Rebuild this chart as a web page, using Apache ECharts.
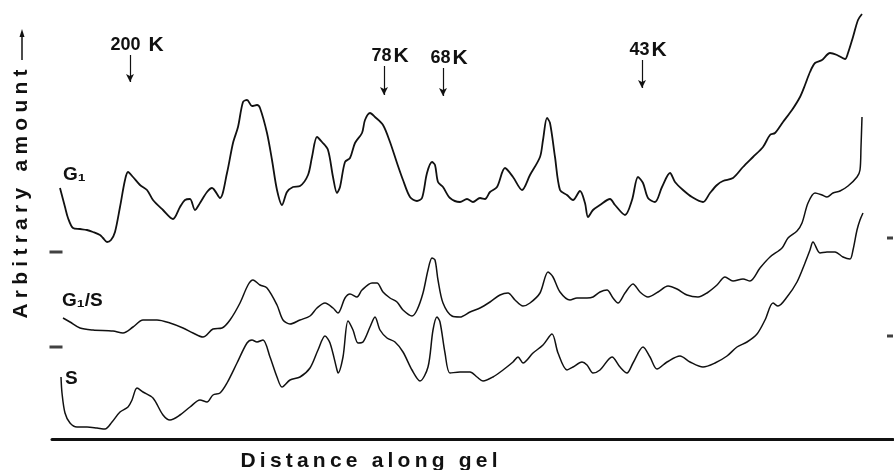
<!DOCTYPE html>
<html>
<head>
<meta charset="utf-8">
<script src="https://cdn.jsdelivr.net/npm/echarts@6/dist/echarts.min.js"></script>
<style>
  html, body { margin: 0; background: #fff; }
  #chart { width: 894px; height: 470px; }
</style>
</head>
<body>
<div id="chart"></div>
<script>
  // densitometer traces: [distance along gel, arbitrary amount]
  var g1Trace = [
    [8,251],[13,232],[16,221],[21,211],[28,210],[35,209],[41,207],[48,204],[51,201],[55,197],[59,199],
    [63,207],[68,232],[73,259],[76,267],[81,262],[88,254],[95,249],[101,239],[111,229],[121,220],
    [128,232],[133,239],[138,240],[143,229],[148,236],[155,247],[160,251],[168,241],[175,266],[181,296],
    [186,312],[191,337],[195,339],[200,333],[205,334],[208,331],[215,306],[220,279],[225,249],[230,234],
    [235,247],[241,252],[248,253],[256,264],[260,282],[265,302],[270,297],[276,289],[281,262],[285,246],
    [288,252],[293,277],[298,281],[303,296],[310,306],[313,319],[318,326],[323,322],[331,314],[338,297],
    [345,276],[351,259],[358,242],[365,238],[370,241],[375,266],[380,277],[383,274],[386,257],[391,252],
    [398,241],[408,237],[415,240],[421,237],[428,241],[433,240],[438,247],[445,252],[453,271],[461,262],
    [470,249],[478,264],[488,282],[491,299],[495,321],[498,316],[503,282],[508,249],[515,244],[521,239],
    [528,248],[533,236],[536,222],[541,229],[548,234],[558,240],[563,234],[573,224],[580,239],[586,262],
    [591,256],[596,241],[603,237],[610,252],[618,266],[623,257],[631,249],[640,242],[651,237],[658,246],
    [665,254],[671,258],[681,261],[691,272],[701,282],[711,292],[718,304],[723,306],[731,317],[740,329],
    [748,342],[753,354],[758,367],[763,376],[770,379],[778,386],[785,384],[793,380],[796,386],[801,402],
    [806,419],[810,425]
  ];
  var g1sTrace = [
    [11,121],[18,117],[28,111],[41,109],[61,108],[71,106],[81,112],[91,119],[105,119],[118,116],[131,111],
    [141,106],[151,102],[161,110],[170,111],[178,119],[188,136],[196,154],[201,159],[208,154],[215,151],
    [225,134],[231,119],[238,115],[248,119],[258,123],[265,131],[273,136],[281,131],[286,126],[293,141],
    [298,145],[305,142],[310,149],[320,156],[325,156],[331,147],[338,141],[345,137],[351,129],[360,123],
    [365,129],[371,146],[376,169],[380,181],[383,179],[386,159],[391,136],[400,123],[408,122],[418,127],
    [428,131],[438,137],[448,144],[456,146],[463,139],[471,133],[478,136],[488,146],[496,167],[501,162],
    [508,147],[518,139],[525,141],[535,141],[541,142],[548,147],[555,149],[561,141],[566,136],[573,146],
    [581,155],[588,147],[596,142],[606,147],[616,153],[625,150],[635,144],[646,142],[655,146],[665,154],
    [673,162],[681,158],[691,160],[698,158],[708,171],[718,182],[730,191],[736,201],[745,208],[750,216],
    [756,236],[763,246],[770,244],[775,242],[781,246],[788,248],[796,253],[805,262],[808,269],[809,292],
    [810,322]
  ];
  var sTrace = [
    [9,62],[10,46],[13,26],[18,16],[25,12],[35,12],[45,11],[53,10],[60,17],[68,27],[76,32],[80,39],
    [85,51],[91,47],[101,41],[111,24],[118,19],[128,24],[138,32],[148,39],[155,37],[161,44],[168,46],
    [175,56],[185,76],[195,96],[200,99],[205,97],[211,99],[218,82],[225,62],[230,52],[238,59],[248,62],
    [258,71],[266,89],[273,103],[278,96],[285,69],[286,66],[291,82],[296,118],[301,109],[306,96],[311,97],
    [318,112],[323,122],[328,109],[335,101],[343,97],[351,87],[360,69],[368,58],[376,72],[381,109],
    [385,122],[388,117],[393,86],[398,66],[408,67],[418,67],[425,62],[431,58],[441,62],[451,69],[461,77],
    [466,82],[471,76],[481,86],[491,94],[500,105],[506,86],[515,69],[521,72],[530,77],[535,74],[541,66],
    [548,69],[560,82],[568,72],[575,66],[581,76],[591,92],[598,82],[605,70],[615,77],[628,83],[638,77],
    [651,72],[663,76],[675,83],[685,92],[695,97],[705,105],[713,119],[721,136],[726,133],[735,142],
    [745,157],[753,176],[758,189],[761,197],[768,186],[775,187],[783,187],[791,182],[798,180],[801,189],
    [805,209],[808,219],[811,226]
  ];

  // molecular weight markers: label, position, arrow top / tip
  var bandNames = ['200', '78', '68', '43'];
  var bandPos = [78, 332, 391, 590];
  var bandTop = [384, 373, 371, 379];
  var bandTip = [357, 344, 343, 351];

  // small baseline ticks at the edges
  var leftTicks = [187, 92];
  var rightTicks = [201, 103];

  var FONT = '"Liberation Sans", Arial, sans-serif';
  var INK = '#111';

  function spread(s, sep) {
    return s.split('').join(sep || '\u2009');
  }

  var bandLines = bandNames.map(function (name, i) {
    var wide = name.length > 2;
    return [
      {
        coord: [bandPos[i], bandTop[i]],
        label: {
          formatter: '{n|' + name + '}{' + (wide ? 'kw' : 'k') + '|K}',
          offset: [wide ? 7 : 6, 4]
        }
      },
      {coord: [bandPos[i], bandTip[i]]}
    ];
  });

  var chart = echarts.init(document.getElementById('chart'));

  var traceStyle = function (w) {
    return {
      type: 'line',
      showSymbol: false,
      smooth: 0.3,
      silent: true,
      lineStyle: {color: INK, width: w}
    };
  };

  var option = {
    backgroundColor: '#fff',
    animation: false,
    grid: {left: 52, right: 1, top: 0, bottom: 31},
    xAxis: {
      type: 'value',
      min: 0,
      max: 841,
      axisLine: {show: true, lineStyle: {color: INK, width: 3}},
      axisTick: {show: false},
      axisLabel: {show: false},
      splitLine: {show: false}
    },
    yAxis: {
      type: 'value',
      min: 0,
      max: 439,
      show: false
    },
    series: [
      Object.assign(traceStyle(1.8), {
        name: 'G1',
        data: g1Trace,
        markLine: {
          silent: true,
          symbol: ['none', 'arrow'],
          symbolSize: [6, 8],
          lineStyle: {color: INK, width: 1.2, type: 'solid'},
          label: {
            show: true,
            position: 'start',
            distance: 3,
            color: INK,
            rich: {
              n: {fontFamily: FONT, fontWeight: 'bold', fontSize: 18, color: INK},
              k: {fontFamily: FONT, fontWeight: 'bold', fontSize: 21, color: INK, padding: [0, 0, 0, 2]},
              kw: {fontFamily: FONT, fontWeight: 'bold', fontSize: 21, color: INK, padding: [0, 0, 0, 8]}
            }
          },
          data: bandLines
        }
      }),
      Object.assign(traceStyle(1.5), {name: 'G1/S', data: g1sTrace}),
      Object.assign(traceStyle(1.5), {name: 'S', data: sTrace}),
      {
        type: 'scatter',
        silent: true,
        symbol: 'rect',
        symbolSize: [13, 3],
        itemStyle: {color: INK},
        data: leftTicks.map(function (v) { return [4, v]; })
      },
      {
        type: 'scatter',
        silent: true,
        symbol: 'rect',
        symbolSize: [6, 3],
        itemStyle: {color: INK},
        data: rightTicks.map(function (v) { return [838, v]; })
      }
    ],
    graphic: [
      {
        type: 'text', x: 21, y: 194, rotation: Math.PI / 2,
        style: {text: spread('Arbitrary amount', '\u2005'), fontFamily: FONT, fontWeight: 'bold', fontSize: 21,
                fill: INK, align: 'center', verticalAlign: 'middle'}
      },
      {type: 'line', shape: {x1: 22, y1: 60, x2: 22, y2: 34}, style: {stroke: INK, lineWidth: 1.5}},
      {type: 'polygon', shape: {points: [[22, 29], [19.5, 37], [24.5, 37]]}, style: {fill: INK}},
      {
        type: 'text', x: 369, y: 461,
        style: {text: spread('Distance along gel'), fontFamily: FONT, fontWeight: 'bold', fontSize: 21,
                fill: INK, align: 'center', verticalAlign: 'middle'}
      },
      {
        type: 'text', x: 63, y: 175,
        style: {text: 'G\u2081', fontFamily: FONT, fontWeight: 'bold', fontSize: 19,
                fill: INK, align: 'left', verticalAlign: 'middle'}
      },
      {
        type: 'text', x: 62, y: 301,
        style: {text: 'G\u2081/S', fontFamily: FONT, fontWeight: 'bold', fontSize: 19,
                fill: INK, align: 'left', verticalAlign: 'middle'}
      },
      {
        type: 'text', x: 65, y: 379,
        style: {text: 'S', fontFamily: FONT, fontWeight: 'bold', fontSize: 19,
                fill: INK, align: 'left', verticalAlign: 'middle'}
      }
    ]
  };

  chart.setOption(option);
</script>
</body>
</html>
